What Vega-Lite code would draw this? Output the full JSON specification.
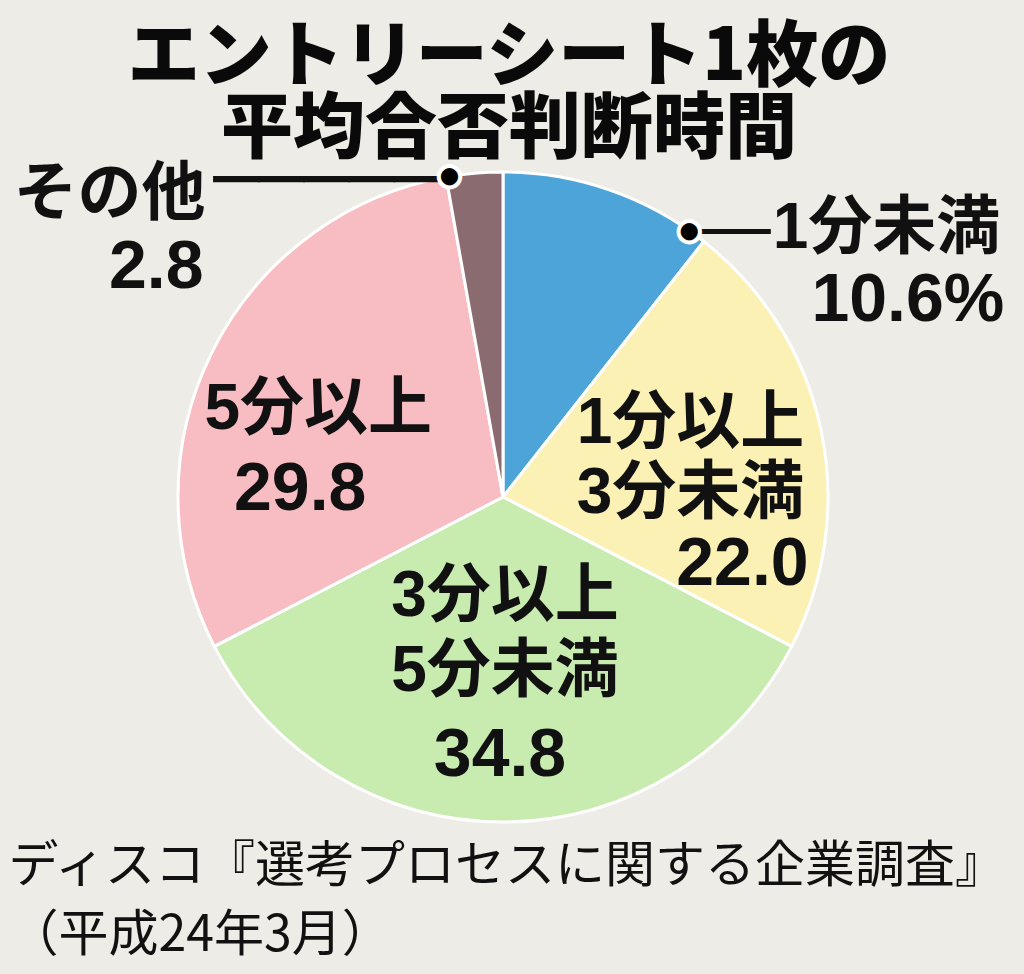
{
  "$schema": "https://vega.github.io/schema/vega-lite/v6.json",
  "width": 990,
  "height": 676,
  "autosize": "none",
  "padding": {"left": 8, "top": 159, "right": 26, "bottom": 139},
  "background": "#edece6",
  "config": {"view": {"stroke": null}, "font": "Noto Sans CJK JP"},
  "title": {
    "text": ["エントリーシート1枚の", "平均合否判断時間"],
    "font": "Noto Sans CJK JP",
    "fontSize": 72,
    "fontWeight": 900,
    "lineHeight": 72,
    "color": "#0a0a0a",
    "anchor": "middle",
    "frame": "group",
    "offset": -22,
    "dx": 6
  },
  "data": {
    "values": [
      {"idx": 1, "category": "1分未満", "name": "1分未満", "value": 10.6, "label": "10.6%"},
      {"idx": 2, "category": "1分以上3分未満", "name": "1分以上\n3分未満", "value": 22.0, "label": "22.0"},
      {"idx": 3, "category": "3分以上5分未満", "name": "3分以上\n5分未満", "value": 34.8, "label": "34.8"},
      {"idx": 4, "category": "5分以上", "name": "5分以上", "value": 29.8, "label": "29.8"},
      {"idx": 5, "category": "その他", "name": "その他", "value": 2.8, "label": "2.8"}
    ]
  },
  "layer": [
    {
      "mark": {"type": "arc", "outerRadius": 325, "stroke": "#ffffff", "strokeWidth": 3},
      "encoding": {
        "theta": {"field": "value", "type": "quantitative", "stack": true},
        "order": {"field": "idx", "type": "quantitative"},
        "color": {
          "field": "category", "type": "nominal", "legend": null,
          "scale": {
            "domain": ["1分未満", "1分以上3分未満", "3分以上5分未満", "5分以上", "その他"],
            "range": ["#4ca4d8", "#fcf1b4", "#c8ebb0", "#f8bdc2", "#8a6b70"]
          }
        }
      }
    },
    {
      "mark": {"type": "text", "radius": 325, "dx": 391, "dy": 39, "align": "right", "baseline": "middle", "font": "Liberation Sans, Noto Sans CJK JP", "fontSize": 64, "fontWeight": "bold", "fill": "#111111", "lineBreak": "\n"},
      "encoding": {
        "theta": {"field": "value", "type": "quantitative", "stack": true},
        "order": {"field": "idx", "type": "quantitative"},
        "text": {"field": "name", "type": "nominal", "condition": {"test": "datum.category !== '1分未満'", "value": ""}}
      }
    },
    {
      "mark": {"type": "text", "radius": 325, "dx": 395, "dy": 111, "align": "right", "baseline": "middle", "font": "Liberation Sans, Noto Sans CJK JP", "fontSize": 68, "fontWeight": "bold", "fill": "#111111"},
      "encoding": {
        "theta": {"field": "value", "type": "quantitative", "stack": true},
        "order": {"field": "idx", "type": "quantitative"},
        "text": {"field": "label", "type": "nominal", "condition": {"test": "datum.category !== '1分未満'", "value": ""}}
      }
    },
    {
      "mark": {"type": "text", "radius": 200, "dx": -8, "dy": -31, "align": "center", "baseline": "middle", "font": "Liberation Sans, Noto Sans CJK JP", "fontSize": 64, "fontWeight": "bold", "lineHeight": 70, "fill": "#111111", "lineBreak": "\n"},
      "encoding": {
        "theta": {"field": "value", "type": "quantitative", "stack": true},
        "order": {"field": "idx", "type": "quantitative"},
        "text": {"field": "name", "type": "nominal", "condition": {"test": "datum.category !== '1分以上3分未満'", "value": ""}}
      }
    },
    {
      "mark": {"type": "text", "radius": 200, "dx": 44, "dy": 110, "align": "center", "baseline": "middle", "font": "Liberation Sans, Noto Sans CJK JP", "fontSize": 68, "fontWeight": "bold", "fill": "#111111"},
      "encoding": {
        "theta": {"field": "value", "type": "quantitative", "stack": true},
        "order": {"field": "idx", "type": "quantitative"},
        "text": {"field": "label", "type": "nominal", "condition": {"test": "datum.category !== '1分以上3分未満'", "value": ""}}
      }
    },
    {
      "mark": {"type": "text", "radius": 100, "dx": 2, "dy": 0, "align": "center", "baseline": "middle", "font": "Liberation Sans, Noto Sans CJK JP", "fontSize": 64, "fontWeight": "bold", "lineHeight": 75, "fill": "#111111", "lineBreak": "\n"},
      "encoding": {
        "theta": {"field": "value", "type": "quantitative", "stack": true},
        "order": {"field": "idx", "type": "quantitative"},
        "text": {"field": "name", "type": "nominal", "condition": {"test": "datum.category !== '3分以上5分未満'", "value": ""}}
      }
    },
    {
      "mark": {"type": "text", "radius": 259, "dx": -3, "dy": 0, "align": "center", "baseline": "middle", "font": "Liberation Sans, Noto Sans CJK JP", "fontSize": 68, "fontWeight": "bold", "fill": "#111111"},
      "encoding": {
        "theta": {"field": "value", "type": "quantitative", "stack": true},
        "order": {"field": "idx", "type": "quantitative"},
        "text": {"field": "label", "type": "nominal", "condition": {"test": "datum.category !== '3分以上5分未満'", "value": ""}}
      }
    },
    {
      "mark": {"type": "text", "radius": 215, "dx": 8, "dy": 8, "align": "center", "baseline": "middle", "font": "Liberation Sans, Noto Sans CJK JP", "fontSize": 64, "fontWeight": "bold", "fill": "#111111"},
      "encoding": {
        "theta": {"field": "value", "type": "quantitative", "stack": true},
        "order": {"field": "idx", "type": "quantitative"},
        "text": {"field": "name", "type": "nominal", "condition": {"test": "datum.category !== '5分以上'", "value": ""}}
      }
    },
    {
      "mark": {"type": "text", "radius": 215, "dx": -10, "dy": 88, "align": "center", "baseline": "middle", "font": "Liberation Sans, Noto Sans CJK JP", "fontSize": 68, "fontWeight": "bold", "fill": "#111111"},
      "encoding": {
        "theta": {"field": "value", "type": "quantitative", "stack": true},
        "order": {"field": "idx", "type": "quantitative"},
        "text": {"field": "label", "type": "nominal", "condition": {"test": "datum.category !== '5分以上'", "value": ""}}
      }
    },
    {
      "mark": {"type": "text", "radius": 325, "dx": -269, "dy": 22, "align": "right", "baseline": "middle", "font": "Liberation Sans, Noto Sans CJK JP", "fontSize": 64, "fontWeight": "bold", "fill": "#111111"},
      "encoding": {
        "theta": {"field": "value", "type": "quantitative", "stack": true},
        "order": {"field": "idx", "type": "quantitative"},
        "text": {"field": "name", "type": "nominal", "condition": {"test": "datum.category !== 'その他'", "value": ""}}
      }
    },
    {
      "mark": {"type": "text", "radius": 325, "dx": -271, "dy": 95, "align": "right", "baseline": "middle", "font": "Liberation Sans, Noto Sans CJK JP", "fontSize": 68, "fontWeight": "bold", "fill": "#111111"},
      "encoding": {
        "theta": {"field": "value", "type": "quantitative", "stack": true},
        "order": {"field": "idx", "type": "quantitative"},
        "text": {"field": "label", "type": "nominal", "condition": {"test": "datum.category !== 'その他'", "value": ""}}
      }
    },
    {
      "mark": {"type": "text", "radius": 325, "dx": 90, "dy": 44, "align": "left", "baseline": "middle", "font": "DejaVu Sans Mono", "fontSize": 59, "fill": "#111111"},
      "encoding": {
        "theta": {"field": "value", "type": "quantitative", "stack": true},
        "order": {"field": "idx", "type": "quantitative"},
        "text": {"condition": {"test": "datum.category === '1分未満'", "value": "──"}, "value": ""}
      }
    },
    {
      "mark": {"type": "text", "radius": 325, "dx": -35, "dy": 9, "align": "right", "baseline": "middle", "font": "DejaVu Sans Mono", "fontSize": 75, "fill": "#111111"},
      "encoding": {
        "theta": {"field": "value", "type": "quantitative", "stack": true},
        "order": {"field": "idx", "type": "quantitative"},
        "text": {"condition": {"test": "datum.category === 'その他'", "value": "─────"}, "value": ""}
      }
    },
    {
      "mark": {"type": "text", "radius": 325, "dx": 80, "dy": 41, "align": "center", "baseline": "middle", "font": "DejaVu Sans", "fontSize": 28, "fill": "#000000", "stroke": "#ffffff", "strokeWidth": 4},
      "encoding": {
        "theta": {"field": "value", "type": "quantitative", "stack": true},
        "order": {"field": "idx", "type": "quantitative"},
        "text": {"condition": {"test": "datum.category === '1分未満'", "value": "●"}, "value": ""}
      }
    },
    {
      "mark": {"type": "text", "radius": 325, "dx": -25, "dy": 3, "align": "center", "baseline": "middle", "font": "DejaVu Sans", "fontSize": 28, "fill": "#000000", "stroke": "#ffffff", "strokeWidth": 4},
      "encoding": {
        "theta": {"field": "value", "type": "quantitative", "stack": true},
        "order": {"field": "idx", "type": "quantitative"},
        "text": {"condition": {"test": "datum.category === 'その他'", "value": "●"}, "value": ""}
      }
    },
    {
      "mark": {"type": "text", "text": ""},
      "encoding": {
        "x": {
          "field": "value", "type": "quantitative", "scale": {"domain": [0, 100]},
          "axis": {
            "title": ["ディスコ『選考プロセスに関する企業調査』", "（平成24年3月）"],
            "labels": false, "ticks": false, "domain": false, "grid": false,
            "titleAnchor": "start", "titleAlign": "left", "titleBaseline": "top",
            "titleFont": "Noto Sans CJK JP", "titleFontSize": 50, "titleFontWeight": "normal",
            "titleColor": "#111111", "titleLineHeight": 69, "titlePadding": 6
          }
        }
      }
    }
  ]
}
